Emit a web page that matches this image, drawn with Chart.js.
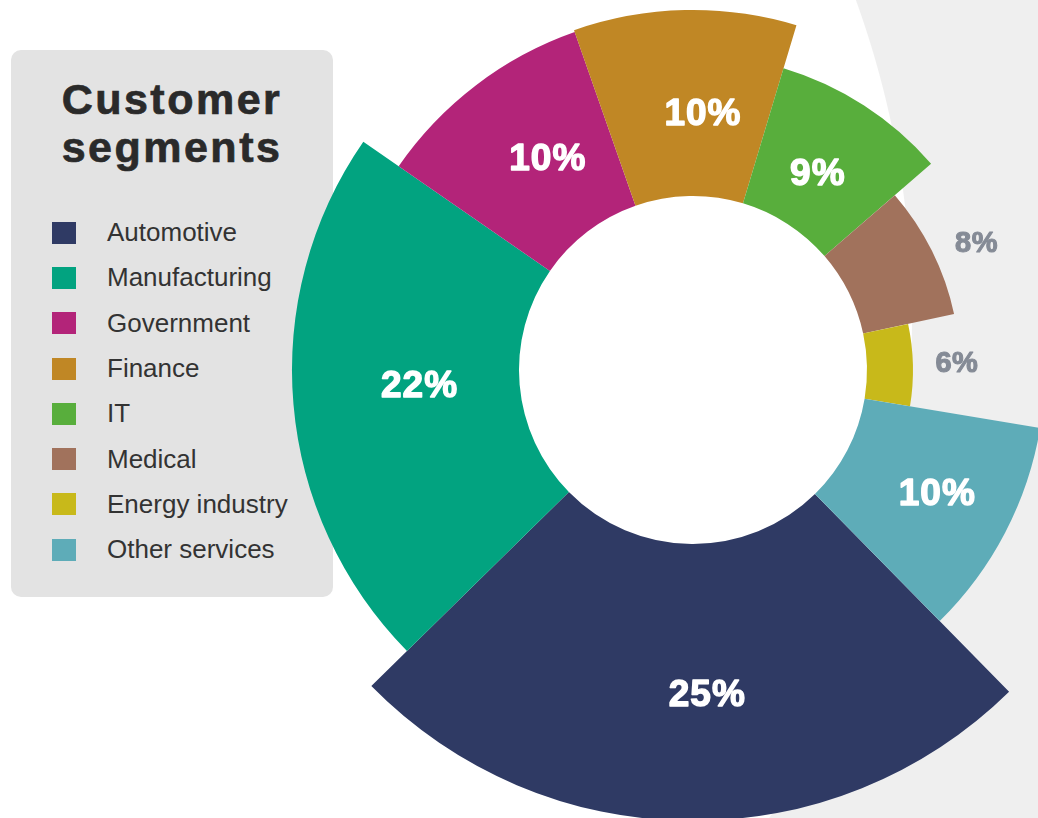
<!DOCTYPE html>
<html>
<head>
<meta charset="utf-8">
<script src="https://cdn.jsdelivr.net/npm/chart.js@4.4.1/dist/chart.umd.min.js"></script>
<style>
  html, body { margin: 0; padding: 0; }
  #stage {
    position: relative; width: 1038px; height: 818px; overflow: hidden;
    background: radial-gradient(circle 940px at -28px 320px, #ffffff 939.5px, #efefef 940.5px);
    font-family: "Liberation Sans", Arial, sans-serif;
  }
  #legend {
    position: absolute; left: 11px; top: 50px; width: 322px; height: 547px;
    background: #e3e3e3; border-radius: 10px;
  }
  #legend h1 {
    margin: 0; position: absolute; left: 0; top: 25px; width: 100%;
    text-align: center; font-size: 43px; line-height: 48px; font-weight: bold;
    letter-spacing: 2.5px; color: #2a2a2a; -webkit-text-stroke: 0.7px #2a2a2a;
  }
  #legend ul { list-style: none; margin: 0; padding: 0; position: absolute; left: 41px; top: 160px; }
  #legend li { height: 45.3px; display: flex; align-items: center; font-size: 26px; color: #333; }
  #legend li span { display: inline-block; width: 24px; height: 22px; margin-right: 31px; }
  #chart { position: absolute; left: 233px; top: -90px; }
</style>
</head>
<body>
<div id="stage">
  <div id="legend">
    <h1>Customer<br>segments</h1>
    <ul id="legend-items"></ul>
  </div>
  <canvas id="chart" width="920" height="920"></canvas>
</div>
<script>
// Customer segments, clockwise from the bottom
const segments = ['Automotive', 'Manufacturing', 'Government', 'Finance', 'IT', 'Medical', 'Energy industry', 'Other services'];
const shares = [25, 22, 10, 10, 9, 8, 6, 10];
// outer reach of each slice (relative units, same scale as the hole)
const reach = [451, 401, 358, 360, 315, 267, 220, 352];
const holeSize = 174;
const colors = ['#2f3a64', '#02a380', '#b32479', '#c08725', '#58ae3c', '#a1725c', '#c8b91a', '#5eacb8'];

// HTML legend built from the same arrays
const ul = document.getElementById('legend-items');
segments.forEach((name, i) => {
  const li = document.createElement('li');
  li.innerHTML = `<span style="background:${colors[i]}"></span>${name}`;
  ul.appendChild(li);
});

// Cut the hole: set inner radius of every arc from the radial scale
const holePlugin = {
  id: 'hole',
  afterDatasetUpdate(chart, args) {
    const scale = chart.scales.r;
    const inner = scale.getDistanceFromCenterForValue(holeSize);
    args.meta.data.forEach(arc => { arc.innerRadius = inner; });
  }
};

// Percent labels: inside thick slices, outside thin ones
const labelPlugin = {
  id: 'sliceLabels',
  afterDatasetsDraw(chart, args, opts) {
    const ctx = chart.ctx;
    const arcs = chart.getDatasetMeta(0).data;
    ctx.save();
    ctx.textAlign = 'center';
    ctx.textBaseline = 'middle';
    ctx.lineJoin = 'round';
    arcs.forEach((arc, i) => {
      const mid = (arc.startAngle + arc.endAngle) / 2;
      const thick = arc.outerRadius - arc.innerRadius;
      const [nx, ny] = opts.nudge[i] || [0, 0];
      let r, color;
      if (thick > 100) {
        r = (arc.innerRadius + arc.outerRadius) / 2;
        color = '#ffffff';
        ctx.font = 'bold 37px "Liberation Sans", Arial, sans-serif';
        ctx.letterSpacing = '1px';
        ctx.lineWidth = 1.4;
      } else {
        r = arc.outerRadius + 42;
        color = '#858b96';
        ctx.font = 'bold 29px "Liberation Sans", Arial, sans-serif';
        ctx.letterSpacing = '0.5px';
        ctx.lineWidth = 1.1;
      }
      const x = arc.x + Math.cos(mid) * r + nx;
      const y = arc.y + Math.sin(mid) * r + ny;
      ctx.fillStyle = color;
      ctx.strokeStyle = color;
      ctx.fillText(shares[i] + '%', x, y);
      ctx.strokeText(shares[i] + '%', x, y);
    });
    ctx.restore();
  }
};

new Chart(document.getElementById('chart'), {
  type: 'polarArea',
  data: {
    labels: segments,
    datasets: [{
      data: reach,
      backgroundColor: colors,
      borderWidth: 0,
      angle: c => shares[c.dataIndex] * 3.6
    }]
  },
  options: {
    responsive: false,
    animation: false,
    events: [],
    layout: { padding: 0 },
    plugins: {
      legend: { display: false },
      tooltip: { enabled: false },
      sliceLabels: { nudge: [[17, 13], [13, -8], [16, 1], [16, 12], [-8, 10], [7, 12], [2, 0], [11, 3]] }
    },
    scales: {
      r: { display: false, min: 0, max: 460, startAngle: 135.5 }
    }
  },
  plugins: [holePlugin, labelPlugin]
});
</script>
</body>
</html>
